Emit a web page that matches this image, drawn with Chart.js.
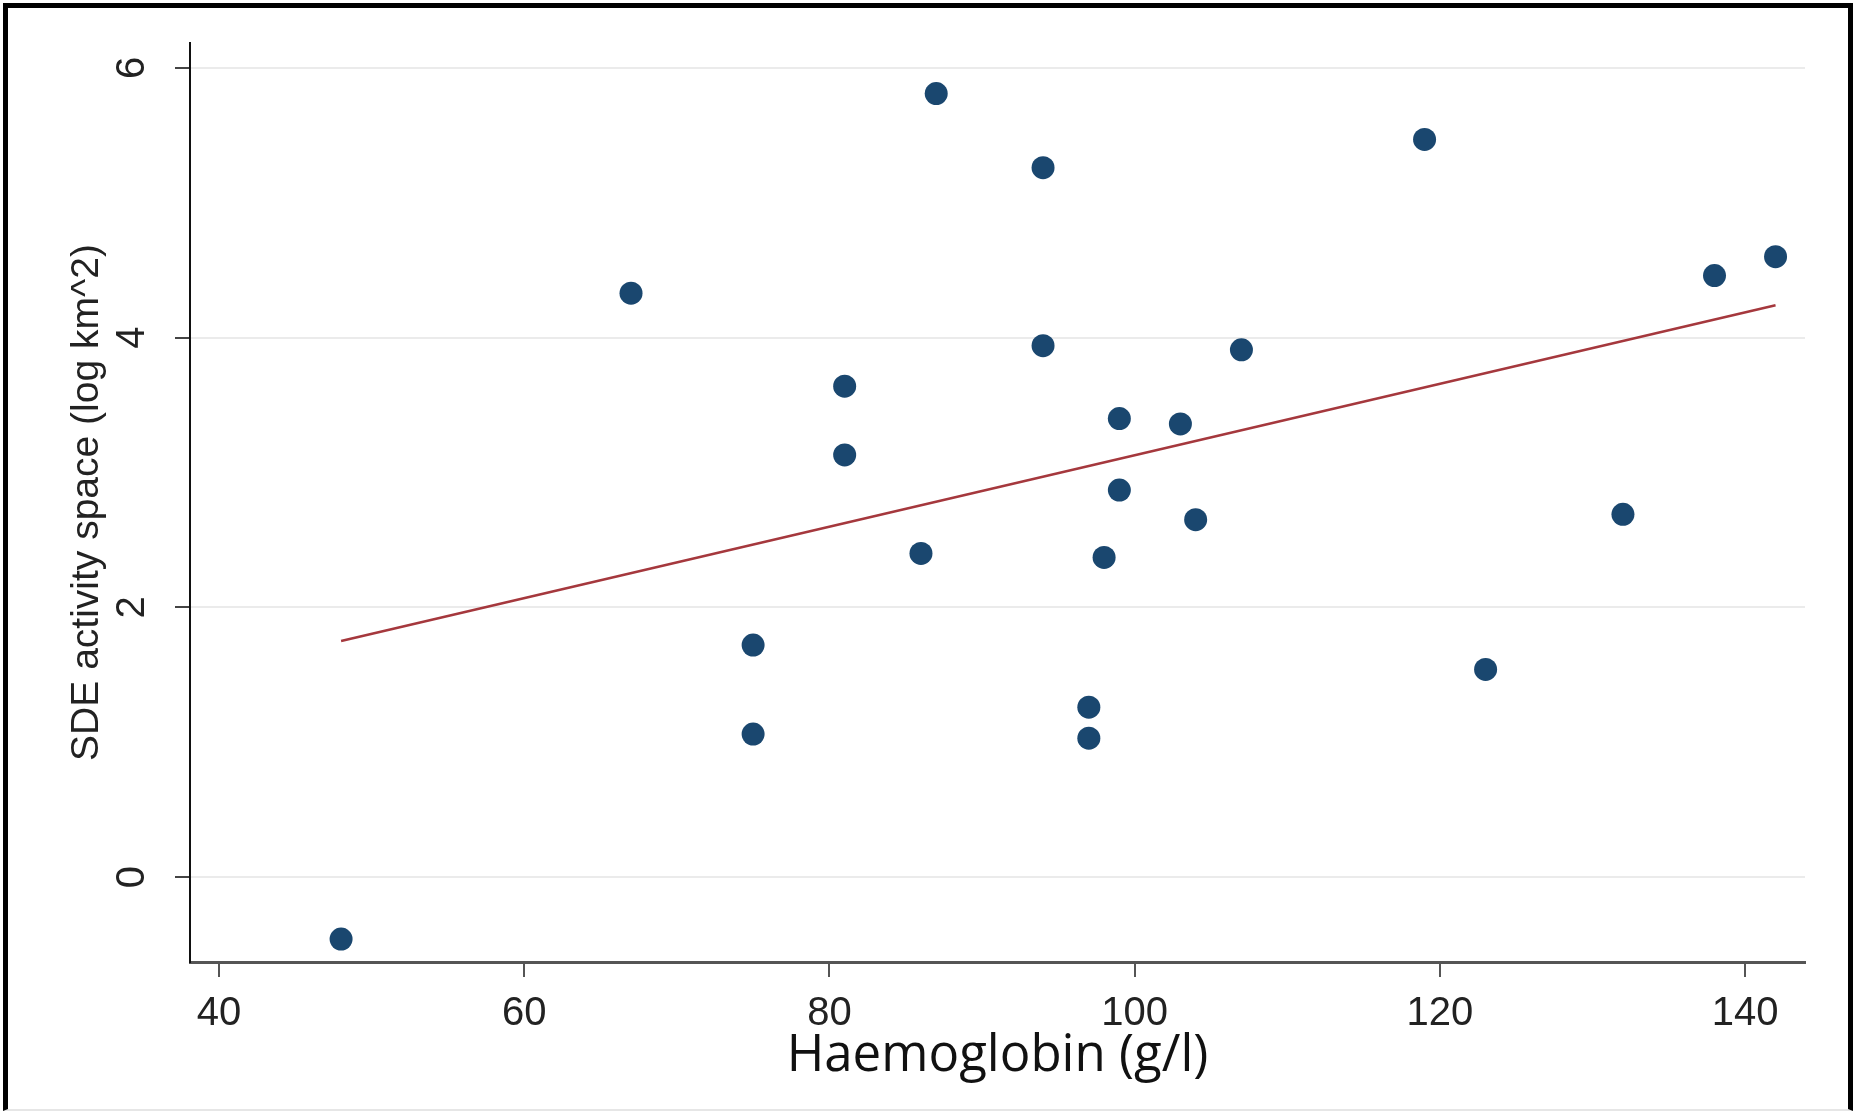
<!DOCTYPE html>
<html>
<head>
<meta charset="utf-8">
<script src="https://cdn.jsdelivr.net/npm/chart.js@4.4.1/dist/chart.umd.min.js"></script>
<style>
    html, body { margin: 0; padding: 0; background: #fff; }
    #wrap { position: relative; width: 1855px; height: 1111px; }
    #frame {
        position: absolute; left: 3px; top: 3px; right: 2px; bottom: 0;
        border-left: 5px solid #000; border-top: 5px solid #000; border-right: 5px solid #000;
        border-bottom: 2px solid #e6e6e6;
        pointer-events: none;
    }
</style>
</head>
<body>
<div id="wrap">
    <canvas id="scatterChart"></canvas>
    <div id="frame"></div>
</div>
<script>
// Haemoglobin (g/l) vs SDE activity space (log km^2)
const haemoglobin = [48, 67, 75, 75, 81, 81, 86, 87, 94, 94, 97, 97, 98, 99, 99, 103, 104, 107, 119, 123, 132, 138, 142];
const sdeSpace = [-0.46, 4.33, 1.72, 1.06, 3.64, 3.13, 2.40, 5.81, 5.26, 3.94, 1.26, 1.03, 2.37, 3.40, 2.87, 3.36, 2.65, 3.91, 5.47, 1.54, 2.69, 4.46, 4.60];

// fitted line end points
const fitX = [48, 142];
const fitY = [1.75, 4.24];

const xTicks = [40, 60, 80, 100, 120, 140];
const yTicks = [0, 2, 4, 6];

// y tick labels are rotated in the original, draw them by hand
const rotatedYLabels = {
    id: 'rotatedYLabels',
    afterDraw(chart) {
        const ctx = chart.ctx;
        const y = chart.scales.y;
        ctx.save();
        ctx.fillStyle = '#222';
        ctx.font = '40px "Liberation Sans", Arial, sans-serif';
        ctx.textAlign = 'center';
        ctx.textBaseline = 'middle';
        yTicks.forEach(v => {
            ctx.save();
            ctx.translate(133, y.getPixelForValue(v));
            ctx.rotate(-Math.PI / 2);
            ctx.fillText(String(v), 0, 0);
            ctx.restore();
        });
        ctx.restore();
    }
};

Chart.defaults.font.family = '"Liberation Sans", Arial, sans-serif';
Chart.defaults.color = '#222';

const ctx = document.getElementById('scatterChart').getContext('2d');
new Chart(ctx, {
    type: 'scatter',
    data: {
        datasets: [{
            type: 'scatter',
            data: haemoglobin.map((h, i) => ({ x: h, y: sdeSpace[i] })),
            backgroundColor: '#1a476f',
            borderColor: '#1a476f',
            borderWidth: 0,
            pointRadius: 11.5,
            order: 0
        }, {
            type: 'line',
            data: fitX.map((h, i) => ({ x: h, y: fitY[i] })),
            borderColor: '#a5383d',
            borderWidth: 2.5,
            pointRadius: 0,
            fill: false,
            order: 1
        }]
    },
    options: {
        responsive: true,
        maintainAspectRatio: false,
        animation: false,
        layout: { padding: { top: 43, right: 50, left: 0, bottom: 0 } },
        plugins: { legend: { display: false }, tooltip: { enabled: false } },
        scales: {
            x: {
                type: 'linear',
                min: 38.1,
                max: 143.93,
                afterBuildTicks: s => { s.ticks = xTicks.map(v => ({ value: v })); },
                afterFit: s => { s.height = 149; },
                ticks: {
                    font: { size: 40 },
                    color: '#222',
                    padding: 13,
                    maxRotation: 0
                },
                grid: {
                    drawOnChartArea: false,
                    tickLength: 15,
                    tickColor: '#555',
                    lineWidth: 2
                },
                border: { color: '#555', width: 3 },
                title: {
                    display: true,
                    text: 'Haemoglobin (g/l)',
                    font: { family: '"Open Sans", Lato, sans-serif', size: 51 },
                    color: '#111',
                    padding: { top: 0, bottom: 24 }
                }
            },
            y: {
                type: 'linear',
                min: -0.63,
                max: 6.185,
                afterBuildTicks: s => { s.ticks = yTicks.map(v => ({ value: v })); },
                afterFit: s => { s.width = 190; },
                ticks: { display: false },
                grid: {
                    color: '#ebebeb',
                    lineWidth: 2,
                    tickLength: 15,
                    tickColor: '#444'
                },
                border: { color: '#111', width: 2 },
                title: {
                    display: true,
                    text: 'SDE activity space (log km^2)',
                    font: { size: 39 },
                    color: '#222',
                    padding: { top: 64, bottom: 0 }
                }
            }
        }
    },
    plugins: [rotatedYLabels]
});
</script>
</body>
</html>
